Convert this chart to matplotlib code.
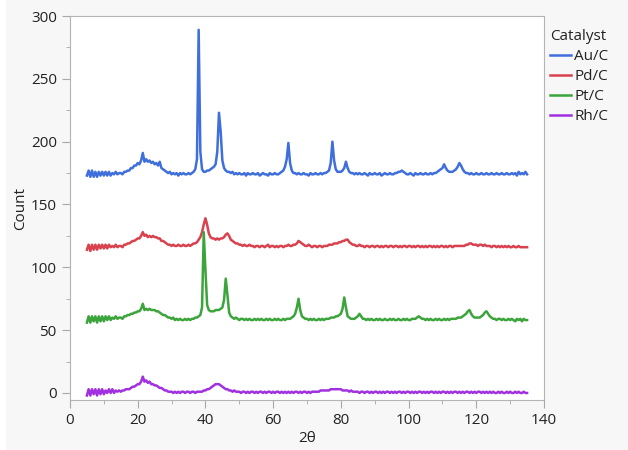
import numpy as np
import matplotlib.pyplot as plt
from matplotlib.patches import Rectangle

plt.rcParams['font.family'] = ['Open Sans', 'DejaVu Sans']

# 2theta grid, 0.5 deg steps from 5 to 135
two_theta = np.arange(5, 135.5, 0.5)

au_c = [
    173, 177, 172, 177, 172, 176, 172, 176, 173, 176, 173, 176, 173, 176, 173, 175, 174, 176, 174, 175,  # 5
    175, 174, 176, 176, 177, 177, 179, 179, 181, 181, 183, 182, 185, 191, 184, 186, 184, 185, 183, 184,  # 15
    182, 183, 181, 184, 179, 178, 177, 176, 175, 176, 174, 175, 174, 175, 173, 175, 174, 175, 174, 174,  # 25
    175, 174, 175, 176, 178, 186, 289, 192, 178, 176, 176, 177, 177, 178, 179, 180, 182, 192, 223, 208,  # 35
    185, 179, 177, 176, 176, 175, 176, 174, 175, 174, 175, 174, 174, 175, 173, 175, 174, 174, 175, 174,  # 45
    174, 175, 173, 174, 175, 174, 174, 173, 175, 174, 174, 175, 174, 174, 175, 176, 177, 180, 186, 199,  # 55
    183, 177, 175, 175, 174, 175, 174, 174, 175, 174, 174, 173, 175, 174, 174, 175, 174, 174, 175, 174,  # 65
    175, 175, 176, 177, 183, 200, 185, 178, 176, 176, 176, 177, 179, 184, 179, 176, 175, 175, 174, 175,  # 75
    174, 175, 174, 174, 175, 174, 173, 175, 174, 174, 175, 174, 174, 175, 173, 174, 175, 174, 174, 175,  # 85
    174, 174, 175, 175, 176, 176, 177, 176, 175, 174, 174, 175, 174, 173, 175, 174, 174, 175, 174, 174,  # 95
    175, 174, 174, 175, 174, 175, 175, 176, 177, 178, 179, 182, 179, 177, 176, 176, 176, 177, 178, 180,  # 105
    183, 181, 178, 176, 175, 175, 174, 175, 174, 174, 175, 174, 174, 175, 174, 174, 175, 174, 174, 175,  # 115
    174, 174, 175, 174, 174, 175, 174, 174, 175, 174, 174, 175, 174, 175, 173, 176, 174, 175, 174, 176,  # 125
    174,
]

pd_c = [
    114, 118, 113, 118, 114, 118, 114, 118, 115, 118, 115, 118, 115, 118, 116, 117, 116, 118, 116, 117,  # 5
    117, 116, 118, 118, 119, 119, 120, 121, 121, 122, 123, 123, 125, 128, 125, 126, 124, 125, 124, 125,  # 15
    124, 124, 123, 123, 121, 121, 120, 119, 118, 118, 117, 118, 117, 117, 118, 117, 117, 118, 117, 117,  # 25
    118, 117, 118, 119, 119, 120, 122, 124, 128, 134, 139, 134, 127, 124, 123, 123, 122, 123, 122, 123,  # 35
    123, 124, 126, 127, 125, 122, 121, 120, 119, 119, 118, 118, 117, 118, 117, 117, 118, 117, 117, 116,  # 45
    117, 117, 116, 117, 117, 116, 117, 118, 116, 117, 117, 116, 117, 116, 117, 117, 116, 117, 117, 118,  # 55
    117, 117, 118, 118, 119, 121, 120, 119, 118, 117, 117, 118, 117, 116, 117, 117, 116, 117, 117, 116,  # 65
    117, 117, 117, 118, 118, 118, 119, 119, 119, 120, 120, 121, 121, 122, 122, 120, 119, 118, 118, 117,  # 75
    117, 118, 117, 117, 116, 117, 117, 116, 117, 117, 116, 117, 117, 116, 117, 116, 117, 117, 116, 117,  # 85
    117, 116, 117, 117, 116, 117, 116, 117, 117, 116, 117, 117, 116, 117, 116, 117, 117, 116, 117, 116,  # 95
    117, 116, 117, 117, 116, 117, 116, 117, 116, 117, 117, 116, 117, 116, 117, 117, 116, 117, 117, 117,  # 105
    117, 117, 117, 117, 118, 118, 119, 119, 118, 118, 118, 117, 118, 118, 117, 118, 117, 117, 117, 116,  # 115
    117, 117, 116, 117, 116, 117, 116, 117, 116, 117, 116, 116, 117, 116, 116, 117, 116, 116, 116, 116,  # 125
    116,
]

pt_c = [
    56, 61, 56, 61, 57, 61, 56, 61, 57, 61, 57, 61, 58, 61, 58, 60, 59, 61, 59, 60,  # 5
    60, 59, 61, 61, 62, 62, 63, 63, 64, 64, 65, 65, 67, 71, 66, 67, 66, 67, 66, 66,  # 15
    66, 65, 65, 64, 63, 62, 62, 61, 60, 60, 59, 60, 58, 59, 58, 59, 58, 58, 59, 58,  # 25
    59, 58, 59, 59, 60, 60, 61, 62, 68, 128, 98, 70, 66, 65, 65, 65, 66, 66, 66, 67,  # 35
    68, 74, 91, 78, 64, 61, 60, 59, 60, 59, 58, 59, 59, 58, 59, 58, 59, 58, 58, 59,  # 45
    58, 59, 58, 59, 58, 58, 59, 58, 59, 58, 58, 59, 58, 59, 58, 58, 59, 58, 59, 59,  # 55
    59, 60, 61, 63, 68, 75, 66, 61, 60, 59, 59, 58, 59, 58, 59, 58, 58, 59, 58, 59,  # 65
    58, 59, 59, 59, 60, 60, 60, 61, 61, 62, 63, 67, 76, 68, 61, 60, 59, 59, 59, 60,  # 75
    61, 63, 61, 59, 59, 58, 59, 58, 59, 58, 58, 59, 58, 59, 58, 58, 59, 58, 58, 59,  # 85
    58, 59, 58, 58, 59, 58, 58, 59, 58, 59, 58, 58, 59, 59, 59, 60, 61, 60, 59, 59,  # 95
    58, 59, 58, 59, 58, 58, 59, 58, 59, 58, 58, 59, 58, 59, 58, 59, 59, 59, 59, 60,  # 105
    60, 60, 61, 62, 63, 65, 66, 63, 61, 60, 60, 60, 60, 61, 62, 64, 65, 63, 61, 60,  # 115
    59, 59, 58, 59, 59, 58, 59, 58, 58, 59, 58, 59, 58, 57, 59, 58, 59, 57, 59, 58,  # 125
    58,
]

rh_c = [
    -2, 3, -2, 3, -1, 3, -2, 3, -1, 3, -1, 2, 0, 3, 0, 3, 0, 2, 1, 2,  # 5
    1, 2, 2, 3, 3, 3, 4, 5, 5, 6, 7, 7, 9, 13, 9, 10, 8, 9, 7, 7,  # 15
    6, 6, 5, 4, 4, 3, 2, 2, 1, 1, 1, 0, 1, 0, 1, 0, 1, 1, 0, 1,  # 25
    1, 0, 1, 1, 0, 1, 1, 1, 1, 2, 2, 3, 3, 4, 5, 6, 7, 7, 7, 6,  # 35
    5, 4, 3, 3, 2, 2, 1, 2, 1, 1, 1, 0, 1, 1, 0, 1, 0, 1, 1, 0,  # 45
    1, 0, 1, 1, 0, 1, 0, 1, 1, 0, 1, 0, 1, 1, 0, 1, 0, 1, 0, 1,  # 55
    0, 1, 0, 1, 1, 0, 1, 0, 1, 1, 0, 1, 0, 1, 1, 1, 1, 1, 2, 2,  # 65
    2, 2, 2, 2, 3, 3, 3, 3, 3, 3, 3, 2, 2, 2, 2, 1, 2, 1, 1, 1,  # 75
    1, 0, 1, 1, 0, 1, 1, 0, 1, 0, 1, 1, 0, 1, 0, 1, 0, 1, 1, 0,  # 85
    1, 0, 1, 0, 1, 1, 0, 1, 0, 1, 1, 0, 1, 0, 1, 0, 1, 1, 0, 1,  # 95
    0, 1, 0, 1, 1, 0, 1, 0, 1, 0, 1, 1, 0, 1, 0, 1, 0, 1, 1, 0,  # 105
    1, 0, 1, 0, 1, 1, 0, 1, 0, 1, 0, 1, 1, 0, 1, 0, 1, 0, 1, 0,  # 115
    1, 0, 0, 1, 0, 1, 0, 0, 1, 0, 1, 0, 0, 1, 0, 1, 0, 0, 1, 0,  # 125
    0,
]

labels = ['Au/C', 'Pd/C', 'Pt/C', 'Rh/C']
colors = ['#3f6fdd', '#d9414e', '#3ba43b', '#a030e0']

fig = plt.figure(figsize=(6.28, 4.5), dpi=100, facecolor='#f7f7f7')
ax = fig.add_axes([70/628, 50/450, 474/628, 384/450])

for y, lab, c in zip([au_c, pd_c, pt_c, rh_c], labels, colors):
    ax.plot(two_theta, y, color=c, lw=1.8, label=lab)

ax.set_xlim(0, 140)
ax.set_ylim(-5.6, 300)
ax.set_xticks(np.arange(0, 141, 20))
ax.set_xticks(np.arange(10, 140, 20), minor=True)
ax.set_yticks(np.arange(0, 301, 50))
ax.set_yticks(np.arange(25, 300, 50), minor=True)

for s in ax.spines.values():
    s.set_color('#b4b4b4')
ax.tick_params(which='both', colors='#a8a8a8', labelcolor='#222222', labelsize=11)
ax.tick_params(which='major', length=6)
ax.tick_params(which='minor', length=3)

ax.set_xlabel('2θ', fontsize=11, color='#222222', labelpad=2)
ax.set_ylabel('Count', fontsize=11, color='#222222', labelpad=2)

leg = ax.legend(title='Catalyst', loc='upper left', bbox_to_anchor=(0.99, 0.993),
                frameon=False, fontsize=11, title_fontsize=11, alignment='left',
                handlelength=1.4, handletextpad=0.2, labelspacing=0.32,
                borderaxespad=0.3)
leg.get_title().set_color('#222222')
for t in leg.get_texts():
    t.set_color('#222222')

# white margin of the screenshot
fig.add_artist(Rectangle((0, 0), 6/628, 1, transform=fig.transFigure,
                         facecolor='white', edgecolor='none', zorder=-1))

fig.savefig('out.png', dpi=100, facecolor=fig.get_facecolor())
